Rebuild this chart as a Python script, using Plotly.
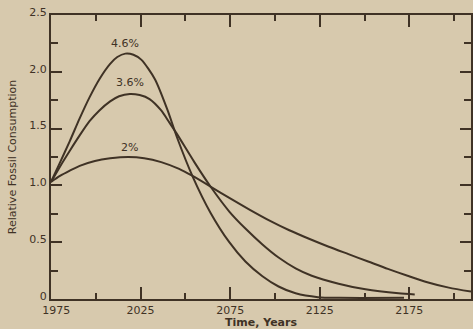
import plotly.graph_objects as go

# ---- data ----
years_46 = [1975, 1980, 1985.5, 1991, 1996.5, 2002, 2008, 2012, 2016.5, 2021, 2025.5, 2033, 2040,
            2045.5, 2054, 2064, 2074.5, 2083.5, 2093, 2102, 2111.5, 2124, 2136, 2172]
vals_46 = [1.03, 1.20, 1.39, 1.59, 1.775, 1.935, 2.07, 2.13, 2.16, 2.15, 2.105, 1.935, 1.665,
           1.415, 1.08, 0.76, 0.50, 0.33, 0.20, 0.11, 0.05, 0.016, 0.01, 0.01]

years_36 = [1975, 1980, 1985.5, 1991, 1996.5, 2002, 2008, 2013, 2019, 2024.5, 2030, 2036.5, 2041,
            2045, 2055, 2064, 2074.5, 2083.5, 2093, 2102, 2111.5, 2120.5, 2135.5, 2150.5, 2169, 2178]
vals_36 = [1.03, 1.165, 1.305, 1.44, 1.565, 1.66, 1.74, 1.785, 1.805, 1.795, 1.76, 1.66, 1.555,
           1.46, 1.205, 0.99, 0.77, 0.62, 0.48, 0.365, 0.27, 0.205, 0.135, 0.085, 0.05, 0.04]

years_2 = [1975, 1980, 1985.5, 1991, 1999.5, 2008, 2018, 2027, 2036.5, 2046.5, 2054, 2064, 2075,
           2086, 2097, 2108, 2119, 2130, 2141, 2152, 2163, 2174, 2185, 2197, 2209.4]
vals_2 = [1.03, 1.083, 1.13, 1.172, 1.215, 1.238, 1.25, 1.24, 1.205, 1.145, 1.083, 0.99, 0.885,
          0.785, 0.69, 0.605, 0.53, 0.46, 0.395, 0.33, 0.265, 0.205, 0.148, 0.10, 0.065]

series_names = ["4.6%", "3.6%", "2%"]
label_pos = [(2016.5, 2.245), (2019, 1.905), (2019, 1.335)]

x_major = [1975, 2025, 2075, 2125, 2175]
x_labels = ["&nbsp;&nbsp;&nbsp;1975", "2025", "2075", "2125", "2175"]
x_minor = [2000, 2050, 2100, 2150, 2200]
y_major = [0, 0.5, 1.0, 1.5, 2.0, 2.5]
y_labels = ["0", "0.5", "1.0", "1.5", "2.0", "2.5"]
y_minor = [0.25, 0.75, 1.25, 1.75, 2.25]

ink = "#3f3225"
paper = "#d7c9ad"
font = "DejaVu Sans"

fig = go.Figure()
for xs, ys, nm in [(years_46, vals_46, series_names[0]),
                   (years_36, vals_36, series_names[1]),
                   (years_2, vals_2, series_names[2])]:
    fig.add_trace(go.Scatter(x=xs, y=ys, mode="lines", name=nm,
                             line=dict(color=ink, width=2, shape="spline", smoothing=0.7),
                             hoverinfo="skip"))

for nm, (lx, ly) in zip(series_names, label_pos):
    fig.add_annotation(x=lx, y=ly, text=nm, showarrow=False,
                       font=dict(family=font, size=11, color=ink))

fig.update_layout(
    width=473, height=329,
    margin=dict(l=51, r=0, t=15, b=30),
    paper_bgcolor=paper, plot_bgcolor=paper,
    showlegend=False,
    font=dict(family=font, size=11, color=ink),
)
fig.update_xaxes(
    range=[1975, 2209.4], showgrid=False, zeroline=False,
    showline=True, linecolor=ink, linewidth=2, mirror="ticks",
    ticks="inside", ticklen=12, tickwidth=1.5, tickcolor=ink,
    tickvals=x_major, ticktext=x_labels,
    tickfont=dict(family=font, size=11, color=ink),
    minor=dict(tickvals=x_minor, ticks="inside", ticklen=6, tickwidth=1.5, tickcolor=ink),
    title=dict(text="<b>Time, Years</b>", font=dict(family=font, size=11, color=ink), standoff=1),
)
fig.update_yaxes(
    range=[0, 2.5], showgrid=False, zeroline=False,
    showline=True, linecolor=ink, linewidth=2, mirror="ticks",
    ticks="inside", ticklen=11, tickwidth=1.5, tickcolor=ink,
    tickvals=y_major, ticktext=y_labels, ticklabelshift=-3,
    tickfont=dict(family=font, size=11, color=ink),
    minor=dict(tickvals=y_minor, ticks="inside", ticklen=7, tickwidth=1.5, tickcolor=ink),
    title=dict(text="Relative Fossil Consumption", font=dict(family=font, size=11, color=ink), standoff=10),
)

fig.write_html("out.html")
